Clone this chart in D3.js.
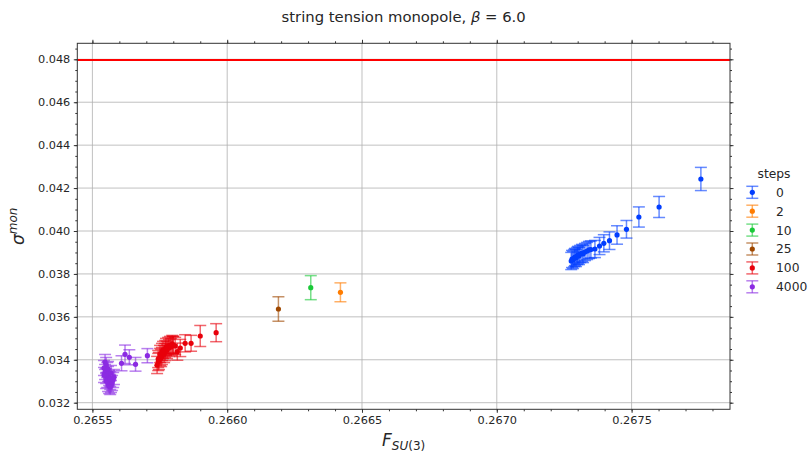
<!DOCTYPE html>
<html>
<head>
<meta charset="utf-8">
<script src="https://cdn.jsdelivr.net/npm/d3@7"></script>
<style>
  body { margin: 0; background: #fff; }
  text { font-family: "DejaVu Sans", sans-serif; fill: #262626; }
</style>
</head>
<body>
<script>
// steps (legend labels)
var steps = ["0", "2", "10", "25", "100", "4000"];
var colors = ["#023eff", "#ff7c00", "#1ac938", "#9f4800", "#e8000b", "#8b2be2"];

// steps = 0
var f0 = [0.267757, 0.267602, 0.267527, 0.267481, 0.267446, 0.267418, 0.267397, 0.267381, 0.267364,
          0.267349, 0.267342, 0.267335, 0.267327, 0.267320, 0.267316, 0.267309, 0.267305, 0.267301,
          0.267298, 0.267294, 0.267290, 0.267287, 0.267283, 0.267279, 0.267276];
var s0 = [0.042424, 0.041119, 0.040653, 0.040080, 0.039815, 0.039549, 0.039428, 0.039302, 0.039162,
          0.039139, 0.039116, 0.039069, 0.039022, 0.038929, 0.038976, 0.038929, 0.038836, 0.038883,
          0.038836, 0.038743, 0.038789, 0.038743, 0.038650, 0.038696, 0.038603];
var e0 = [0.00054, 0.00049, 0.00047, 0.00041, 0.00043, 0.00041, 0.00040, 0.00040, 0.00040,
          0.00040, 0.00040, 0.00040, 0.00040, 0.00040, 0.00040, 0.00040, 0.00040, 0.00040,
          0.00040, 0.00040, 0.00040, 0.00040, 0.00040, 0.00040, 0.00040];

// steps = 2, 10, 25
var f2 = [0.26642], s2 = [0.037144], e2 = [0.00044];
var f10 = [0.26631], s10 = [0.03736], e10 = [0.00056];
var f25 = [0.26619], s25 = [0.036366], e25 = [0.00057];

// steps = 100
var f100 = [0.265959, 0.265900, 0.265866, 0.265844, 0.265826, 0.265815, 0.265800,
            0.265807, 0.265799, 0.265796, 0.265792, 0.265788, 0.265784, 0.265781, 0.265777,
            0.265773, 0.265770, 0.265770, 0.265766, 0.265762, 0.265758, 0.265758, 0.265755,
            0.265751, 0.265751, 0.265747, 0.265744, 0.265744, 0.265740];
var s100 = [0.035262, 0.035108, 0.034768, 0.034768, 0.034549, 0.034377, 0.034689,
            0.034642, 0.034689, 0.034735, 0.034595, 0.034689, 0.034549, 0.034642, 0.034456,
            0.034595, 0.034363, 0.034502, 0.034269, 0.034456, 0.034176, 0.034363, 0.034083,
            0.034269, 0.034130, 0.033943, 0.034036, 0.033897, 0.033757];
var e100 = [0.00042, 0.00049, 0.00037, 0.00040, 0.00040, 0.00040, 0.00040,
            0.00040, 0.00040, 0.00040, 0.00040, 0.00040, 0.00040, 0.00040, 0.00040,
            0.00040, 0.00040, 0.00040, 0.00040, 0.00040, 0.00040, 0.00040, 0.00040,
            0.00040, 0.00040, 0.00040, 0.00040, 0.00040, 0.00040];

// steps = 4000
var f4000 = [0.265704, 0.265660, 0.265637, 0.265621, 0.265608,
             0.265547, 0.265551, 0.265543, 0.265555, 0.265547, 0.265558, 0.265551, 0.265562,
             0.265555, 0.265566, 0.265558, 0.265569, 0.265562, 0.265573, 0.265551, 0.265566,
             0.265577, 0.265543, 0.265558, 0.265569, 0.265580, 0.265566];
var s4000 = [0.034190, 0.033789, 0.034116, 0.034255, 0.033836,
             0.033897, 0.033757, 0.033617, 0.033524, 0.033431, 0.033337, 0.033244, 0.033151,
             0.033058, 0.032965, 0.032871, 0.032825, 0.032778, 0.032918, 0.033011, 0.033104,
             0.033058, 0.033291, 0.033570, 0.033384, 0.033197, 0.032731];
var e4000 = [0.00033, 0.00032, 0.00035, 0.00043, 0.00035,
             0.00035, 0.00035, 0.00035, 0.00035, 0.00035, 0.00035, 0.00035, 0.00035,
             0.00035, 0.00035, 0.00035, 0.00035, 0.00035, 0.00035, 0.00035, 0.00035,
             0.00035, 0.00035, 0.00035, 0.00035, 0.00035, 0.00035];

var refLine = 0.04797;

var xTicks = [0.2655, 0.2660, 0.2665, 0.2670, 0.2675];
var yTicks = [0.032, 0.034, 0.036, 0.038, 0.040, 0.042, 0.044, 0.046, 0.048];

var series = [
  { f: f0, s: s0, e: e0 },
  { f: f2, s: s2, e: e2 },
  { f: f10, s: s10, e: e10 },
  { f: f25, s: s25, e: e25 },
  { f: f100, s: s100, e: e100 },
  { f: f4000, s: s4000, e: e4000 }
];

var W = 810, H = 454;
var pL = 77.3, pR = 730, pT = 43.3, pB = 409.3;

var x = d3.scaleLinear().domain([0.265444, 0.267865]).range([pL, pR]);
var y = d3.scaleLinear().domain([0.031692, 0.048746]).range([pB, pT]);

var svg = d3.select("body").append("svg").attr("width", W).attr("height", H);

// grid
svg.append("g").selectAll("line")
  .data(xTicks).enter().append("line")
  .attr("x1", function (d) { return x(d); }).attr("x2", function (d) { return x(d); })
  .attr("y1", pT).attr("y2", pB)
  .attr("stroke", "#b0b0b0").attr("stroke-width", 0.8);
svg.append("g").selectAll("line")
  .data(yTicks).enter().append("line")
  .attr("y1", function (d) { return y(d); }).attr("y2", function (d) { return y(d); })
  .attr("x1", pL).attr("x2", pR)
  .attr("stroke", "#b0b0b0").attr("stroke-width", 0.8);

// reference line
svg.append("line")
  .attr("x1", pL).attr("x2", pR)
  .attr("y1", y(refLine)).attr("y2", y(refLine))
  .attr("stroke", "#ff0000").attr("stroke-width", 2);

// axes
var fmtX = d3.format(".4f"), fmtY = d3.format(".3f");
var xMinor = d3.range(0.2655, 0.26787, 0.0001);
var yMinor = d3.range(0.032, 0.0487, 0.0005);

function axisSet(axisFn, scale, major, minor, fmt, tr, showLabels) {
  var g = svg.append("g").attr("transform", tr);
  g.call(axisFn(scale).tickValues(minor).tickSize(2).tickFormat(""));
  g.select(".domain").remove();
  var g2 = svg.append("g").attr("transform", tr);
  g2.call(axisFn(scale).tickValues(major).tickSize(3.5).tickSizeOuter(0).tickPadding(3.5)
    .tickFormat(showLabels ? fmt : ""));
  g2.select(".domain").remove();
  g2.selectAll("text").attr("font-size", 11.3).attr("font-family", "DejaVu Sans").attr("fill", "#262626");
  g.selectAll("line").attr("stroke", "#333");
  g2.selectAll("line").attr("stroke", "#333");
}
axisSet(d3.axisBottom, x, xTicks, xMinor, fmtX, "translate(0," + pB + ")", true);
axisSet(d3.axisTop, x, xTicks, xMinor, fmtX, "translate(0," + pT + ")", false);
axisSet(d3.axisLeft, y, yTicks, yMinor, fmtY, "translate(" + pL + ",0)", true);
axisSet(d3.axisRight, y, yTicks, yMinor, fmtY, "translate(" + pR + ",0)", false);

svg.append("rect")
  .attr("x", pL).attr("y", pT).attr("width", pR - pL).attr("height", pB - pT)
  .attr("fill", "none").attr("stroke", "#333").attr("stroke-width", 1);

// error bars + points
var cap = 6;
series.forEach(function (sr, k) {
  var pts = sr.f.map(function (d, i) { return { f: d, s: sr.s[i], e: sr.e[i] }; });
  var g = svg.append("g").attr("stroke", colors[k]).attr("stroke-opacity", 0.6).attr("stroke-width", 1.5);
  g.selectAll("line.v").data(pts).enter().append("line").attr("class", "v")
    .attr("x1", function (d) { return x(d.f); }).attr("x2", function (d) { return x(d.f); })
    .attr("y1", function (d) { return y(d.s - d.e); }).attr("y2", function (d) { return y(d.s + d.e); });
  g.selectAll("line.t").data(pts).enter().append("line").attr("class", "t")
    .attr("x1", function (d) { return x(d.f) - cap; }).attr("x2", function (d) { return x(d.f) + cap; })
    .attr("y1", function (d) { return y(d.s + d.e); }).attr("y2", function (d) { return y(d.s + d.e); });
  g.selectAll("line.b").data(pts).enter().append("line").attr("class", "b")
    .attr("x1", function (d) { return x(d.f) - cap; }).attr("x2", function (d) { return x(d.f) + cap; })
    .attr("y1", function (d) { return y(d.s - d.e); }).attr("y2", function (d) { return y(d.s - d.e); });
  svg.append("g").selectAll("circle").data(pts).enter().append("circle")
    .attr("cx", function (d) { return x(d.f); })
    .attr("cy", function (d) { return y(d.s); })
    .attr("r", 2.6)
    .attr("fill", colors[k]);
});

// title
svg.append("text")
  .attr("x", (pL + pR) / 2).attr("y", 22)
  .attr("text-anchor", "middle").attr("font-size", 14.8)
  .html('string tension monopole, <tspan font-style="italic">β</tspan> = 6.0');

// axis labels
svg.append("text")
  .attr("x", (pL + pR) / 2).attr("y", 446)
  .attr("text-anchor", "middle").attr("font-size", 17)
  .html('<tspan font-style="italic">F</tspan><tspan font-style="italic" font-size="12" dy="4">SU</tspan><tspan font-size="12">(3)</tspan>');

svg.append("text")
  .attr("transform", "translate(24," + ((pT + pB) / 2) + ") rotate(-90)")
  .attr("text-anchor", "middle").attr("font-size", 17)
  .html('<tspan font-style="italic">σ</tspan><tspan font-style="italic" font-size="12" dy="-7">mon</tspan>');

// legend
var lg = svg.append("g");
lg.append("text").attr("x", 774).attr("y", 178).attr("text-anchor", "middle").attr("font-size", 12.3).text("steps");
steps.forEach(function (s, k) {
  var cy = 192.3 + k * 18.9;
  var g = lg.append("g");
  var gl = g.append("g").attr("stroke", colors[k]).attr("stroke-opacity", 0.6).attr("stroke-width", 1.5);
  gl.append("line").attr("x1", 752.3).attr("x2", 752.3).attr("y1", cy - 6).attr("y2", cy + 6);
  gl.append("line").attr("x1", 746.3).attr("x2", 758.3).attr("y1", cy - 6).attr("y2", cy - 6);
  gl.append("line").attr("x1", 746.3).attr("x2", 758.3).attr("y1", cy + 6).attr("y2", cy + 6);
  g.append("circle").attr("cx", 752.3).attr("cy", cy).attr("r", 2.6).attr("fill", colors[k]);
  g.append("text").attr("x", 776).attr("y", cy + 4.4).attr("font-size", 12.3).text(s);
});
</script>
</body>
</html>
